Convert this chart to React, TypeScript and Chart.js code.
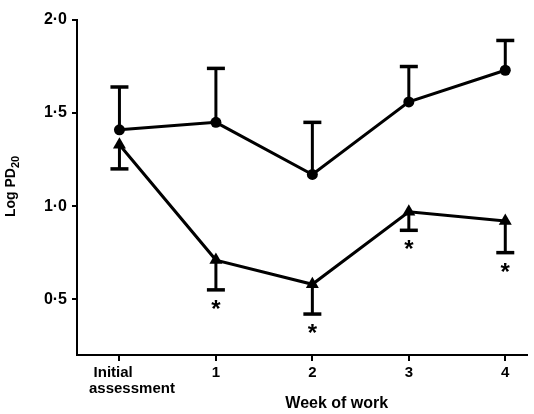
import React, { useEffect, useRef } from "react";
import { Chart, registerables } from "chart.js";

Chart.register(...registerables);

// ---- data ----
const categories = ["Initial assessment", "1", "2", "3", "4"];
const xTickLabels: (string | string[])[] = [["Initial\u00A0\u00A0\u00A0", "\u00A0\u00A0\u00A0\u00A0\u00A0\u00A0assessment"], "1", "2", "3", "4"];
const yTickValues = [0.5, 1.0, 1.5, 2.0];

const circleMean = [1.41, 1.45, 1.17, 1.56, 1.73];
const circleUpper = [1.64, 1.74, 1.45, 1.75, 1.89];

const triangleMean = [1.33, 0.71, 0.58, 0.97, 0.92];
const triangleLower = [1.2, 0.55, 0.42, 0.87, 0.75];
const triangleSignificant = [false, true, true, true, true];

const xTitle = "Week of work";
const yTitleMain = "Log PD";
const yTitleSub = "20";

const FONT = "'Liberation Sans', Arial, Helvetica, sans-serif";

const errorBarPlugin = {
  id: "errorBars",
  beforeDatasetsDraw(chart: any) {
    const ctx = chart.ctx;
    const y = chart.scales.y;
    const bars: { ds: number; ends: number[]; stars?: boolean[] }[] = [
      { ds: 0, ends: circleUpper },
      { ds: 1, ends: triangleLower, stars: triangleSignificant },
    ];
    ctx.save();
    ctx.strokeStyle = "#000";
    ctx.fillStyle = "#000";
    bars.forEach((b) => {
      const meta = chart.getDatasetMeta(b.ds);
      meta.data.forEach((pt: any, i: number) => {
        const ey = y.getPixelForValue(b.ends[i]);
        ctx.lineWidth = 3;
        ctx.beginPath();
        ctx.moveTo(pt.x, pt.y);
        ctx.lineTo(pt.x, ey);
        ctx.stroke();
        ctx.lineWidth = 3.5;
        ctx.beginPath();
        ctx.moveTo(pt.x - 9, ey);
        ctx.lineTo(pt.x + 9, ey);
        ctx.stroke();
        if (b.stars && b.stars[i]) {
          ctx.font = `bold 24px ${FONT}`;
          ctx.textAlign = "center";
          ctx.textBaseline = "alphabetic";
          ctx.fillText("*", pt.x, ey + 14 + 13);
        }
      });
    });
    ctx.restore();
  },
};

const titlesPlugin = {
  id: "axisTitles",
  afterDraw(chart: any) {
    const ctx = chart.ctx;
    const area = chart.chartArea;
    ctx.save();
    ctx.fillStyle = "#000";
    // x title
    ctx.font = `bold 16px ${FONT}`;
    ctx.textAlign = "center";
    ctx.textBaseline = "middle";
    ctx.fillText(xTitle, (area.left + area.right) / 2 + 35, 404);
    // y title (rotated, with subscript)
    ctx.translate(15, (area.top + area.bottom) / 2 - 1);
    ctx.rotate(-Math.PI / 2);
    ctx.font = `bold 14px ${FONT}`;
    const wMain = ctx.measureText(yTitleMain).width;
    ctx.font = `bold 11px ${FONT}`;
    const wSub = ctx.measureText(yTitleSub).width;
    const start = -(wMain + wSub) / 2;
    ctx.textAlign = "left";
    ctx.textBaseline = "alphabetic";
    ctx.font = `bold 14px ${FONT}`;
    ctx.fillText(yTitleMain, start, 0);
    ctx.font = `bold 11px ${FONT}`;
    ctx.fillText(yTitleSub, start + wMain, 4);
    ctx.restore();
  },
};

export default function App() {
  const ref = useRef<HTMLCanvasElement>(null);

  useEffect(() => {
    if (!ref.current) return;
    const chart = new Chart(ref.current, {
      type: "line",
      data: {
        datasets: [
          {
            label: "circles",
            data: circleMean.map((v, i) => ({ x: i, y: v })),
            borderColor: "#000",
            backgroundColor: "#000",
            borderWidth: 3,
            pointStyle: "circle",
            pointRadius: 5.5,
            pointBackgroundColor: "#000",
            pointBorderWidth: 0,
            tension: 0,
          },
          {
            label: "triangles",
            data: triangleMean.map((v, i) => ({ x: i, y: v })),
            borderColor: "#000",
            backgroundColor: "#000",
            borderWidth: 3,
            pointStyle: "triangle",
            pointRadius: 7.5,
            pointBackgroundColor: "#000",
            pointBorderWidth: 0,
            tension: 0,
          },
        ],
      },
      options: {
        animation: false,
        responsive: false,
        devicePixelRatio: 1,
        layout: { padding: { top: 20, right: 4, left: 0, bottom: 0 } },
        plugins: { legend: { display: false }, tooltip: { enabled: false } },
        scales: {
          x: {
            type: "linear",
            min: -0.44,
            max: 4.22,
            afterBuildTicks: (s: any) => {
              s.ticks = categories.map((_, i) => ({ value: i }));
            },
            afterFit: (s: any) => {
              s.height = 59;
            },
            grid: { drawOnChartArea: false, drawTicks: true, tickLength: 6, color: "#000", lineWidth: 2 },
            border: { display: true, color: "#000", width: 2 },
            ticks: {
              color: "#000",
              autoSkip: false,
              maxRotation: 0,
              padding: 4,
              font: { family: FONT, size: 15, weight: "bold", lineHeight: 1.05 },
              callback: (v: any) => xTickLabels[Math.round(v)] as any,
            },
          },
          y: {
            type: "linear",
            min: 0.2,
            max: 2.0,
            afterBuildTicks: (s: any) => {
              s.ticks = yTickValues.map((v) => ({ value: v }));
            },
            afterFit: (s: any) => {
              s.width = 77;
            },
            grid: { drawOnChartArea: false, drawTicks: true, tickLength: 5, color: "#000", lineWidth: 2 },
            border: { display: true, color: "#000", width: 2 },
            ticks: {
              color: "#000",
              padding: 5,
              font: { family: FONT, size: 16, weight: "bold" },
              callback: (v: any) => Number(v).toFixed(1).replace(".", "\u00B7"),
            },
          },
        },
      },
      plugins: [errorBarPlugin, titlesPlugin],
    } as any);
    return () => chart.destroy();
  }, []);

  return (
    <div style={{ position: "fixed", left: 0, top: 0, width: 534, height: 414, background: "#fff" }}>
      <canvas ref={ref} width={534} height={414} style={{ display: "block" }} />
    </div>
  );
}
